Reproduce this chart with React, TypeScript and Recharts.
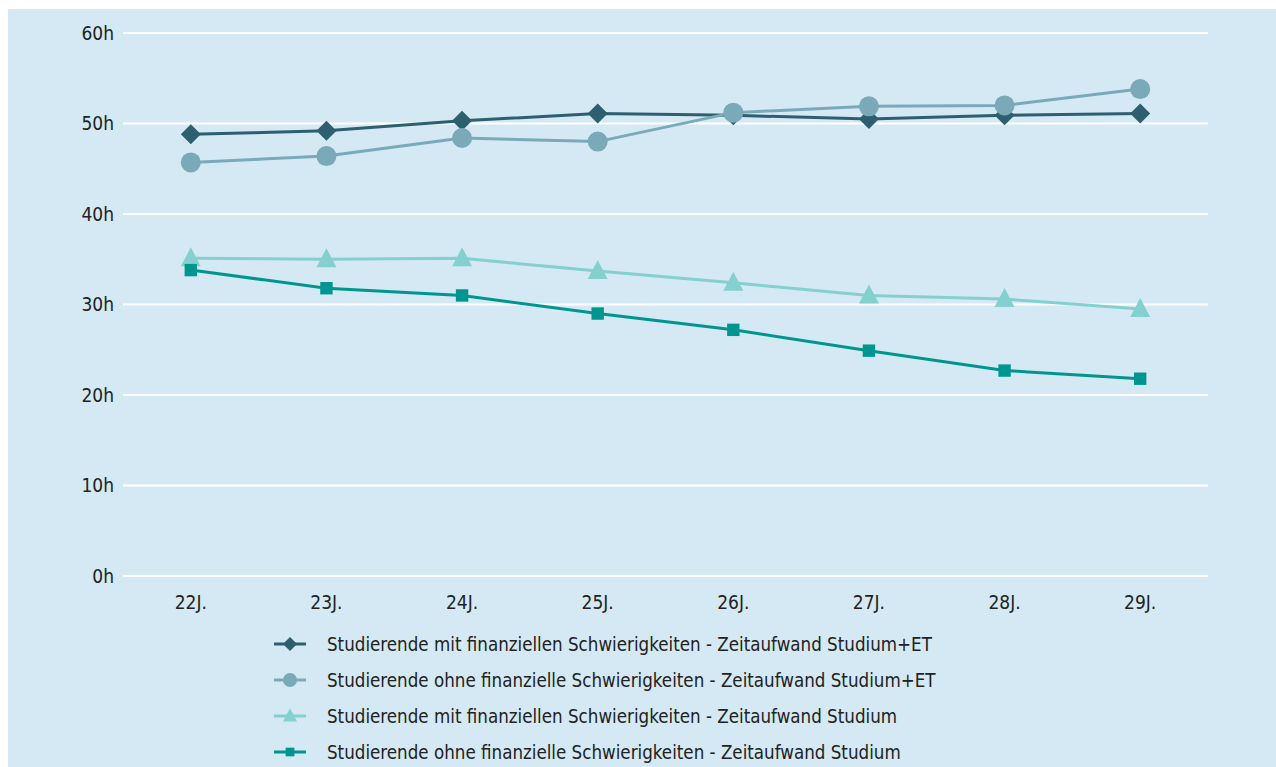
import { LineChart, Line, XAxis, YAxis, CartesianGrid } from "recharts";

const years = ["22J.", "23J.", "24J.", "25J.", "26J.", "27J.", "28J.", "29J."];
const mitGesamt = [48.8, 49.2, 50.3, 51.1, 50.9, 50.5, 50.9, 51.1];
const ohneGesamt = [45.7, 46.4, 48.4, 48.0, 51.2, 51.9, 52.0, 53.8];
const mitStudium = [35.1, 35.0, 35.1, 33.7, 32.4, 31.0, 30.6, 29.5];
const ohneStudium = [33.8, 31.8, 31.0, 29.0, 27.2, 24.9, 22.7, 21.8];
const yTicks = [0, 10, 20, 30, 40, 50, 60];

const seriesNames = [
  "Studierende mit finanziellen Schwierigkeiten - Zeitaufwand Studium+ET",
  "Studierende ohne finanzielle Schwierigkeiten - Zeitaufwand Studium+ET",
  "Studierende mit finanziellen Schwierigkeiten - Zeitaufwand Studium",
  "Studierende ohne finanzielle Schwierigkeiten - Zeitaufwand Studium",
];
const colors = ["#2d5f6f", "#7aa9b8", "#84d0cf", "#00968f"];
const shapes = ["diamond", "circle", "triangle", "square"];

const data = years.map((y, i) => ({
  year: y,
  s0: mitGesamt[i],
  s1: ohneGesamt[i],
  s2: mitStudium[i],
  s3: ohneStudium[i],
}));

const FONT = "'DejaVu Sans Condensed', 'Liberation Sans Narrow', sans-serif";

function Marker({ shape, cx, cy, color, size }: { shape: string; cx: number; cy: number; color: string; size: number }) {
  const r = size / 2;
  if (shape === "diamond")
    return <polygon points={`${cx},${cy - r} ${cx + r},${cy} ${cx},${cy + r} ${cx - r},${cy}`} fill={color} />;
  if (shape === "circle") return <circle cx={cx} cy={cy} r={r} fill={color} />;
  if (shape === "triangle")
    return <polygon points={`${cx},${cy - r * 1.1} ${cx + r},${cy + r * 0.8} ${cx - r},${cy + r * 0.8}`} fill={color} />;
  const s = r * 0.62;
  return <rect x={cx - s} y={cy - s} width={s * 2} height={s * 2} fill={color} />;
}

const makeDot = (idx: number) => (props: any) => {
  const { cx, cy, key } = props;
  if (cx == null || cy == null) return <g key={key} />;
  return (
    <g key={key}>
      <Marker shape={shapes[idx]} cx={cx} cy={cy} color={colors[idx]} size={20} />
    </g>
  );
};

function LegendBox() {
  return (
    <div style={{ position: "absolute", left: 266, top: 617, fontFamily: FONT, fontSize: 18.6, color: "#222" }}>
      {seriesNames.map((name, i) => (
        <div key={name} style={{ display: "flex", alignItems: "center", height: 36 }}>
          <svg width={36} height={20} style={{ marginRight: 17 }}>
            <line x1={0} y1={10} x2={32} y2={10} stroke={colors[i]} strokeWidth={3} />
            <Marker shape={shapes[i]} cx={16} cy={10} color={colors[i]} size={14} />
          </svg>
          <span>{name}</span>
        </div>
      ))}
    </div>
  );
}

export default function App() {
  return (
    <div style={{ position: "fixed", left: 8, top: 9, width: 1268, height: 758, background: "#d4e9f3" }}>
      <LineChart width={1268} height={758} data={data} margin={{ top: 24, right: 68, bottom: 0, left: 0 }}>
        <CartesianGrid horizontal vertical={false} stroke="#ffffff" strokeWidth={2} />
        <XAxis
          dataKey="year"
          scale="band"
          axisLine={false}
          tickLine={false}
          tickMargin={14}
          height={191}
          tick={{ fill: "#222", fontSize: 19, fontFamily: FONT }}
        />
        <YAxis
          domain={[0, 60]}
          ticks={yTicks}
          tickFormatter={(v) => `${v}h`}
          axisLine={false}
          tickLine={false}
          width={115}
          tickMargin={3}
          tick={{ fill: "#222", fontSize: 19, fontFamily: FONT }}
        />
        {["s0", "s1", "s2", "s3"].map((k, i) => (
          <Line
            key={k}
            dataKey={k}
            name={seriesNames[i]}
            stroke={colors[i]}
            strokeWidth={3}
            dot={makeDot(i)}
            activeDot={false}
            isAnimationActive={false}
          />
        ))}
      </LineChart>
      <LegendBox />
    </div>
  );
}
